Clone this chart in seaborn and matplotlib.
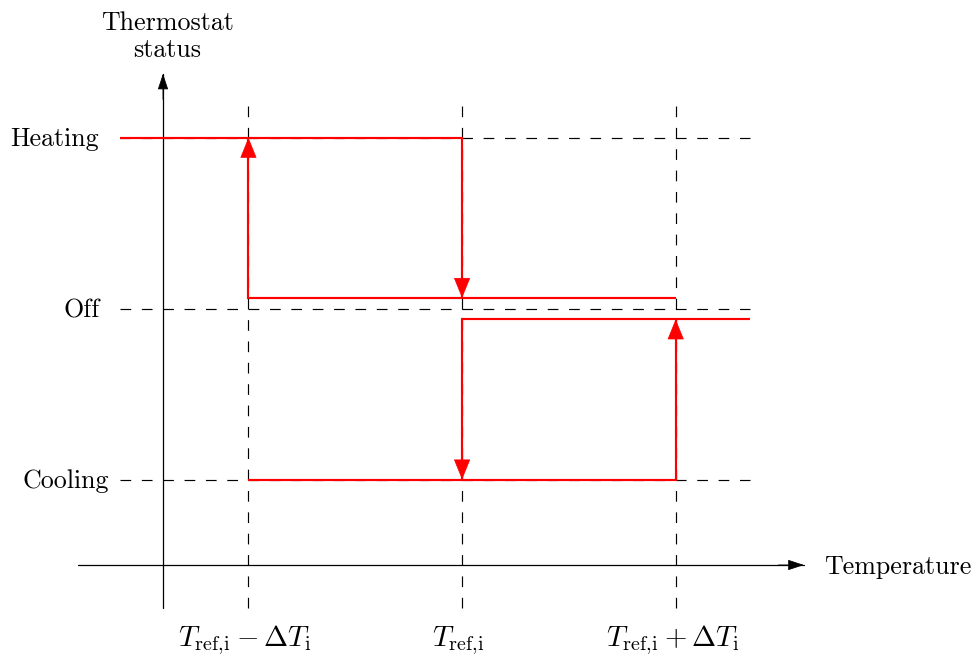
import numpy as np
import pandas as pd
import matplotlib
matplotlib.use("Agg")
import matplotlib.pyplot as plt
import seaborn as sns

# ---------------- data ----------------
status_labels = ["Cooling", "Off", "Heating"]
status_levels = [1.0, 3.0, 5.0]
threshold_positions = [1.0, 3.5, 6.0]
threshold_labels = [r"$T_{\mathrm{ref{,}i}}-\Delta T_{\mathrm{i}}$",
                    r"$T_{\mathrm{ref{,}i}}$",
                    r"$T_{\mathrm{ref{,}i}}+\Delta T_{\mathrm{i}}$"]
off_split = 0.125          # separation of the two "Off" branches
x_start, x_end = -0.5, 6.875
axis_x_range = [-1.0, 7.5]
axis_y_range = [-0.5, 5.75]
vline_range = [-0.5, 5.375]
xlabel_text = "Temperature"
ylabel_text = "Thermostat\nstatus"

# ---------------- style ----------------
sns.set_theme(style="white")
plt.rcParams["font.family"] = ["cmr10", "DejaVu Serif"]
plt.rcParams["mathtext.fontset"] = "cm"
plt.rcParams["axes.unicode_minus"] = False
plt.rcParams["lines.scale_dashes"] = False
plt.rcParams["text.color"] = "black"

S = 85.45          # pixels per data unit
X0, Y0 = 163, 565  # pixel position of origin
W, H = 977, 668

fig = plt.figure(figsize=(W / 100, H / 100), dpi=100)
ax = fig.add_axes([0, 0, 1, 1])
ax.set_xlim(-X0 / S, (W - X0) / S)
ax.set_ylim(-(H - Y0) / S, Y0 / S)
ax.axis("off")

cool, off, heat = status_levels
lo_t, mid_t, hi_t = threshold_positions

# dashed guide lines
guides = []
for i, xv in enumerate(threshold_positions):
    guides.append(pd.DataFrame({"x": [xv, xv], "y": vline_range, "seg": f"v{i}"}))
for i, yv in enumerate(status_levels):
    guides.append(pd.DataFrame({"x": [x_start, x_end], "y": [yv, yv], "seg": f"h{i}"}))
guides = pd.concat(guides, ignore_index=True)
n0 = len(ax.lines)
sns.lineplot(data=guides, x="x", y="y", units="seg", estimator=None, sort=False,
             color="black", lw=0.85, ax=ax, legend=False)
for ln in ax.lines[n0:]:
    ln.set_linestyle((0, (7.69, 7.69)))
    ln.set_dash_capstyle("butt")

# axes
axes_df = pd.concat([
    pd.DataFrame({"x": axis_x_range, "y": [0, 0], "seg": "xa"}),
    pd.DataFrame({"x": [0, 0], "y": axis_y_range, "seg": "ya"}),
], ignore_index=True)
sns.lineplot(data=axes_df, x="x", y="y", units="seg", estimator=None, sort=False,
             color="black", lw=0.9, ax=ax, legend=False)
for tip, tail in [((axis_x_range[1], 0), (axis_x_range[1] - 0.3, 0)),
                  ((0, axis_y_range[1]), (0, axis_y_range[1] - 0.3))]:
    ax.annotate("", xy=tip, xytext=tail,
                arrowprops=dict(arrowstyle="-|>,head_length=1.0,head_width=0.33",
                                mutation_scale=10, color="black", lw=0.6,
                                shrinkA=0, shrinkB=0))

# red hysteresis paths
up_off = off + off_split
lo_off = off - off_split
paths = [
    ("a", [x_start, mid_t, mid_t], [heat, heat, up_off]),
    ("b", [hi_t, lo_t, lo_t], [up_off, up_off, heat]),
    ("c", [x_end, mid_t, mid_t], [lo_off, lo_off, cool]),
    ("d", [lo_t, hi_t, hi_t], [cool, cool, lo_off]),
]
red_df = pd.concat([pd.DataFrame({"x": xs, "y": ys, "seg": name}) for name, xs, ys in paths],
                   ignore_index=True)
n0 = len(ax.lines)
sns.lineplot(data=red_df, x="x", y="y", units="seg", estimator=None, sort=False,
             color="red", lw=1.55, ax=ax, legend=False)
for ln in ax.lines[n0:]:
    ln.set_solid_joinstyle("miter")
    ln.set_solid_capstyle("butt")
for name, xs, ys in paths:
    tip = (xs[-1], ys[-1])
    d = np.sign(ys[-1] - ys[-2])
    tail = (xs[-1], ys[-1] - d * 0.4)
    ax.annotate("", xy=tip, xytext=tail,
                arrowprops=dict(arrowstyle="-|>,head_length=1.35,head_width=0.55",
                                mutation_scale=10, color="red", lw=0.5,
                                shrinkA=0, shrinkB=0))

# texts
fs = 18.7
label_right = {"Heating": -0.75, "Off": -0.74, "Cooling": -0.63}
for lab, yv in zip(status_labels, status_levels):
    ax.text(label_right[lab], yv - 0.1, lab, ha="right", va="baseline", fontsize=fs)
for xv, lab in zip(threshold_positions, threshold_labels):
    ax.text(xv - 0.04, -0.955, lab, ha="center", va="baseline", fontsize=20.8)
ax.text(7.74, -0.1, xlabel_text, ha="left", va="baseline", fontsize=fs)
ax.text(0.05, 5.945, ylabel_text, ha="center", va="baseline", fontsize=fs,
        linespacing=1.2)

fig.savefig("out.png", dpi=100)
